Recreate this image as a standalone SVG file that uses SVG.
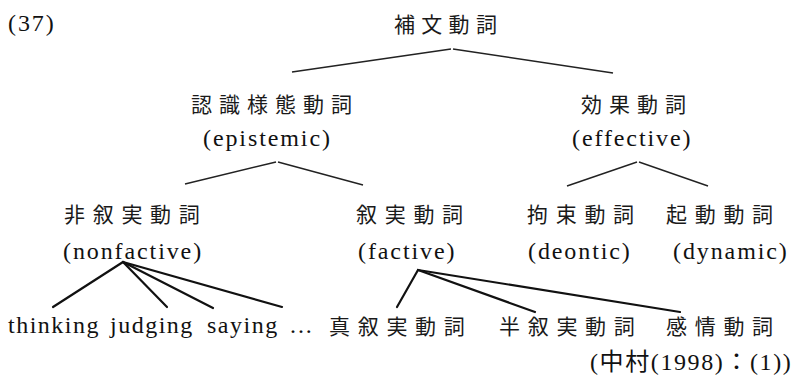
<svg xmlns="http://www.w3.org/2000/svg" width="794" height="380" viewBox="0 0 794 380">
<style>
.lat{font-family:"Liberation Serif","Noto Sans CJK JP",serif;font-size:24px;letter-spacing:1.9px;fill:#111}
.cjk{font-family:"Noto Sans CJK JP","Noto Sans",sans-serif;font-size:21px;letter-spacing:7px;fill:#1a1a1a}
.thin{stroke:#222;stroke-width:1.4;fill:none}
.thick{stroke:#111;stroke-width:2.2;fill:none;stroke-linecap:round}
</style>
<rect width="794" height="380" fill="#fff"/>
<g id="label-37"><text class="lat" x="8" y="31">(37)</text></g>
<g id="root"><text class="cjk" x="394" y="31.5" style="letter-spacing:6.3px">補文動詞</text></g>
<g id="epistemic"><text class="cjk" x="191" y="111.5">認識様態動詞</text><text class="lat" x="203" y="146">(epistemic)</text></g>
<g id="effective"><text class="cjk" x="581" y="111.5">効果動詞</text><text class="lat" x="572" y="146">(effective)</text></g>
<g id="nonfactive"><text class="cjk" x="64" y="221.5" style="letter-spacing:7.7px">非叙実動詞</text><text class="lat" x="63" y="259">(nonfactive)</text></g>
<g id="factive"><text class="cjk" x="356" y="221.5" style="letter-spacing:7.7px">叙実動詞</text><text class="lat" x="358" y="259">(factive)</text></g>
<g id="deontic"><text class="cjk" x="527" y="221.5" style="letter-spacing:7.7px">拘束動詞</text><text class="lat" x="528" y="259">(deontic)</text></g>
<g id="dynamic"><text class="cjk" x="666" y="221.5" style="letter-spacing:7.7px">起動動詞</text><text class="lat" x="673" y="259">(dynamic)</text></g>
<g id="thinking"><text class="lat" x="8" y="333" style="letter-spacing:1.5px">thinking</text></g>
<g id="judging"><text class="lat" x="110" y="333" style="letter-spacing:1.5px">judging</text></g>
<g id="saying"><text class="lat" x="207" y="333" style="letter-spacing:1.5px">saying</text></g>
<g id="ellipsis"><text class="lat" x="290" y="333">...</text></g>
<g id="shin-jojitsu"><text class="cjk" x="329" y="333.5" style="letter-spacing:7.7px">真叙実動詞</text></g>
<g id="han-jojitsu"><text class="cjk" x="499" y="333.5" style="letter-spacing:7.7px">半叙実動詞</text></g>
<g id="kanjou"><text class="cjk" x="666" y="333.5" style="letter-spacing:7.7px">感情動詞</text></g>
<g id="citation"><text class="lat" x="590" y="370" style="letter-spacing:1.6px">(中村(1998)：(1))</text></g>
<g id="connectors">
<polyline class="thin" points="292,72 451,49"/>
<polyline class="thin" points="453,49 613,73"/>
<polyline class="thin" points="185,184 276,162"/>
<polyline class="thin" points="278,162 363,185"/>
<polyline class="thin" points="567,186 637,162"/>
<polyline class="thin" points="639,162 708,186"/>
<line class="thick" x1="123" y1="262" x2="53" y2="307"/>
<line class="thick" x1="123" y1="262" x2="167" y2="307"/>
<line class="thick" x1="123" y1="262" x2="213" y2="308"/>
<line class="thick" x1="123" y1="262" x2="282" y2="307"/>
<line class="thick" x1="418" y1="270" x2="397" y2="307"/>
<line class="thick" x1="418" y1="270" x2="535" y2="312"/>
<line class="thick" x1="418" y1="270" x2="680" y2="312"/>
</g>
</svg>
